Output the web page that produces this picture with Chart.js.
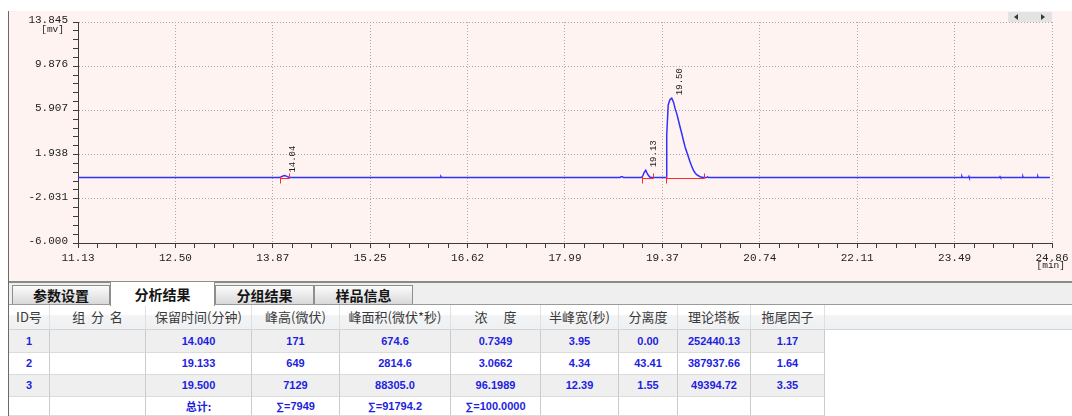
<!DOCTYPE html>
<html lang="zh-CN">
<head>
<meta charset="utf-8">
<title>色谱图 - 分析结果</title>
<script src="https://cdn.jsdelivr.net/npm/chart.js@4.4.1/dist/chart.umd.min.js"></script>
<style>
  html, body { margin: 0; padding: 0; background: #fff; width: 1072px; height: 416px; overflow: hidden; }
  body { position: relative; font-family: "Noto Sans CJK SC", "Noto Sans", sans-serif; }
  #leftRule { position: absolute; left: 8px; top: 11px; width: 1px; height: 405px; background: #6a6a6a; }
  #plotPanel { position: absolute; left: 9px; top: 11px; width: 1063px; height: 270px; background: #fff3f1; }
  #chartBox { position: absolute; left: 0; top: 0; width: 1063px; height: 264px; }
  #scroller { position: absolute; left: 999px; top: 1px; width: 44px; height: 10px; background: #e3e3e3; }
  #scroller .l, #scroller .r { position: absolute; top: 2px; width: 0; height: 0; border-top: 3px solid transparent; border-bottom: 3px solid transparent; }
  #scroller .l { left: 6px; border-right: 4px solid #3a3a3a; }
  #scroller .r { left: 33px; border-left: 4px solid #3a3a3a; }
  #tabBar { position: absolute; left: 9px; top: 281px; width: 1063px; height: 21px; background: #efefef; border-top: 2px solid #8a8a8a; border-bottom: 1px solid #9a9a9a; }
  .tab { position: absolute; box-sizing: border-box; border: 1px solid #8e8e8e; border-bottom: none; font-weight: bold; font-size: 14px; color: #151515; text-align: center; }
  .tab.off { top: 285px; height: 19px; line-height: 19px; background: linear-gradient(#fbfbfb, #d9d9d9); }
  .tab.on { top: 281px; height: 25px; line-height: 24px; background: #fff; z-index: 2; }
  .cell { position: absolute; box-sizing: border-box; text-align: center; white-space: pre; overflow: hidden; }
  .hd { top: 305px; height: 25px; line-height: 24px; font-size: 13px; color: #3a3a3a;
        background: linear-gradient(#ffffff 0%, #ffffff 40%, #f3f4f6 42%, #eef0f2 100%);
        border-right: 1px solid #e0e0e0; border-bottom: 1px solid #d4d4d4; }
  .bd { font-family: "Liberation Sans", Arial, sans-serif; font-weight: bold; font-size: 11px; color: #1e1ee0;
        border-right: 1px solid #cbcbcb; border-bottom: 1px solid #dcdcdc; }
  .bd.cjk { font-family: "Noto Sans CJK SC", sans-serif; }
</style>
</head>
<body>
<div id="plotPanel">
  <div id="chartBox"><canvas id="chrom"></canvas></div>
  <div id="scroller"><span class="l"></span><span class="r"></span></div>
</div>
<div id="leftRule"></div>
<div id="tabBar"></div>
<div class="tab off" style="left:12px;width:98px;">参数设置</div>
<div class="tab on" style="left:110px;width:105px;">分析结果</div>
<div class="tab off" style="left:215px;width:99px;">分组结果</div>
<div class="tab off" style="left:314px;width:99px;">样品信息</div>
<div id="grid"></div>

<script>
// ---- chromatogram trace (time in min, signal in mV) ----
const timeMin = [
  11.13, 13.97, 13.995, 14.02, 14.04, 14.06, 14.08, 14.10, 14.12,
  16.24, 16.247, 16.255,
  18.77, 18.785, 18.805, 18.82,
  19.07, 19.09, 19.11, 19.133, 19.15, 19.17, 19.19, 19.21,
  19.427, 19.429, 19.45, 19.475, 19.50, 19.525, 19.546, 19.569, 19.593, 19.616, 19.640, 19.663, 19.687,
  19.710, 19.734, 19.757, 19.780, 19.804, 19.827, 19.851, 19.898, 19.945, 19.99, 20.005, 20.02,
  23.585, 23.59, 23.595, 23.685, 23.69, 23.695, 24.12, 24.127, 24.135, 24.445, 24.45, 24.455,
  24.655, 24.66, 24.665, 24.83
];
const signalMv = [
  -0.12, -0.12, -0.06, 0.02, 0.051, 0.03, -0.04, -0.10, -0.12,
  -0.12, -0.04, -0.12,
  -0.12, -0.04, -0.04, -0.12,
  -0.12, 0.00, 0.33, 0.529, 0.30, 0.08, -0.08, -0.12,
  -0.12, 3.70, 6.40, 6.88, 7.009, 6.65, 6.09, 5.64, 5.04, 4.44, 3.85, 3.25, 2.65,
  2.20, 1.75, 1.30, 0.91, 0.55, 0.31, 0.13, -0.05, -0.11, -0.12, -0.06, -0.12,
  -0.12, -0.04, -0.12, -0.12, -0.04, -0.12, -0.12, -0.04, -0.12, -0.12, -0.04, -0.12,
  -0.12, -0.04, -0.12, -0.12
];
const baselineMv = -0.12;

// ---- integration windows (min) ----
const peakStart = [13.977, 19.085, 19.418];
const peakEnd   = [14.104, 19.232, 19.955];

// ---- axis ticks ----
const xMin = 11.13, xMax = 24.86;
const yMin = -6.0, yMax = 13.845;
const xTickLabels = ['11.13', '12.50', '13.87', '15.25', '16.62', '17.99', '19.37', '20.74', '22.11', '23.49', '24.86'];
const yTickLabels = ['-6.000', '-2.031', '1.938', '5.907', '9.876', '13.845'];
const minorPerMajor = 5;

// ---- peak results table ----
const peakIds = [1, 2, 3];
const componentNames = ['', '', ''];
const retentionTimes = [14.040, 19.133, 19.500];
const peakHeights = [171, 649, 7129];
const peakAreas = [674.6, 2814.6, 88305.0];
const concentrations = [0.7349, 3.0662, 96.1989];
const halfWidths = [3.95, 4.34, 12.39];
const resolutions = [0.00, 43.41, 1.55];
const plates = [252440.13, 387937.66, 49394.72];
const tailing = [1.17, 1.64, 3.35];
const headers = ['ID号', '组  分  名', '保留时间(分钟)', '峰高(微伏)', '峰面积(微伏*秒)', '浓　 度', '半峰宽(秒)', '分离度', '理论塔板', '拖尾因子'];

const monoFont = "'Liberation Mono', 'DejaVu Sans Mono', monospace";

function evenTicks(min, max, majors) {
  const n = (majors - 1) * minorPerMajor;
  const out = [];
  for (let i = 0; i <= n; i++) out.push({ value: min + (max - min) * i / n });
  return out;
}

const peakMarks = {
  id: 'peakMarks',
  afterDatasetsDraw(chart) {
    const { ctx, scales: { x, y } } = chart;
    const yy = Math.round(y.getPixelForValue(baselineMv)) + 0.5;
    ctx.save();
    ctx.strokeStyle = '#ff2a2a';
    ctx.lineWidth = 1;
    peakStart.forEach((ts, i) => {
      const xs = Math.round(x.getPixelForValue(ts)) + 0.5;
      const xe = Math.round(x.getPixelForValue(peakEnd[i])) + 0.5;
      ctx.beginPath();
      ctx.moveTo(xs, yy + 5); ctx.lineTo(xs, yy - 2);
      ctx.moveTo(xs, yy); ctx.lineTo(xe, yy);
      ctx.moveTo(xe, yy); ctx.lineTo(xe, yy - 5);
      ctx.stroke();
    });
    // retention-time labels, rotated above each apex
    ctx.fillStyle = '#222';
    ctx.font = '9px ' + monoFont;
    retentionTimes.forEach((rt, i) => {
      const px = x.getPixelForValue(rt) + 8;
      const py = y.getPixelForValue(baselineMv + peakHeights[i] / 1000) - 3;
      ctx.save();
      ctx.translate(px, py);
      ctx.rotate(-Math.PI / 2);
      ctx.textAlign = 'left';
      ctx.textBaseline = 'middle';
      ctx.fillText(rt.toFixed(2), 0, 0);
      ctx.restore();
    });
    // unit captions
    ctx.font = '9.5px ' + monoFont;
    ctx.fillStyle = '#222';
    ctx.textAlign = 'right';
    ctx.textBaseline = 'middle';
    ctx.fillText('[mv]', y.left + 55, y.top + 7);
    ctx.fillText('[min]', x.right + 13, x.top + 22);
    ctx.restore();
  }
};

const gridColor = (ctx) => (ctx.index % minorPerMajor === 0 ? '#ababab' : 'rgba(0,0,0,0)');

new Chart(document.getElementById('chrom'), {
  type: 'line',
  data: {
    datasets: [{
      data: timeMin.map((t, i) => ({ x: t, y: signalMv[i] })),
      borderColor: '#3030ff',
      borderWidth: 1.5,
      pointRadius: 0,
      tension: 0,
      fill: false
    }]
  },
  options: {
    responsive: true,
    maintainAspectRatio: false,
    devicePixelRatio: 1,
    animation: false,
    events: [],
    layout: { padding: { left: 0, top: 11, right: 20, bottom: 0 } },
    plugins: { legend: { display: false }, tooltip: { enabled: false } },
    scales: {
      x: {
        type: 'linear', min: xMin, max: xMax,
        afterBuildTicks: (s) => { s.ticks = evenTicks(xMin, xMax, xTickLabels.length); },
        afterFit: (s) => { s.height = 32; s.paddingLeft = 0; s.paddingRight = 0; },
        ticks: {
          autoSkip: false, maxRotation: 0, padding: 3, color: '#222',
          font: { family: monoFont, size: 11 },
          callback: (v, i) => (i % minorPerMajor === 0 ? xTickLabels[i / minorPerMajor] : '')
        },
        grid: { color: gridColor, tickColor: '#3c3c3c', tickLength: 5, tickBorderDash: [], drawTicks: true },
        border: { display: true, color: '#3c3c3c', width: 1, dash: [1, 2] }
      },
      y: {
        type: 'linear', min: yMin, max: yMax,
        afterBuildTicks: (s) => { s.ticks = evenTicks(yMin, yMax, yTickLabels.length); },
        afterFit: (s) => { s.width = 69; s.paddingTop = 0; s.paddingBottom = 0; },
        ticks: {
          autoSkip: false, padding: 5, color: '#222', labelOffset: -2,
          font: { family: monoFont, size: 11 },
          callback: (v, i) => (i % minorPerMajor === 0 ? yTickLabels[i / minorPerMajor] : '')
        },
        grid: { color: gridColor, tickColor: '#3c3c3c', tickLength: 5, tickBorderDash: [], drawTicks: true },
        border: { display: true, color: '#3c3c3c', width: 1, dash: [1, 2] }
      }
    }
  },
  plugins: [peakMarks]
});

// ---- results grid ----
const colEdges = [9, 50, 146, 252, 340, 451, 541, 619, 678, 751, 825];
const rowTops = [330, 353, 375, 397];
const rowHeights = [23, 22, 22, 19];
const rowFills = ['#efefef', '#ffffff', '#efefef', '#ffffff'];
const grid = document.getElementById('grid');

function addCell(cls, x0, x1, top, h, text, extra) {
  const d = document.createElement('div');
  d.className = 'cell ' + cls;
  d.style.left = x0 + 'px';
  d.style.width = (x1 - x0) + 'px';
  if (top !== null) { d.style.top = top + 'px'; d.style.height = h + 'px'; d.style.lineHeight = (h - 1) + 'px'; }
  if (extra) Object.assign(d.style, extra);
  d.textContent = text;
  grid.appendChild(d);
}

headers.forEach((h, c) => addCell('hd', colEdges[c], colEdges[c + 1], null, 0, h));
addCell('hd', colEdges[colEdges.length - 1], 1072, null, 0, '', { borderRight: 'none' });

const fmtRows = peakIds.map((id, i) => [
  String(id), componentNames[i], retentionTimes[i].toFixed(3), String(peakHeights[i]),
  peakAreas[i].toFixed(1), concentrations[i].toFixed(4), halfWidths[i].toFixed(2),
  resolutions[i].toFixed(2), plates[i].toFixed(2), tailing[i].toFixed(2)
]);
const sum = (a) => a.reduce((s, v) => s + v, 0);
fmtRows.push(['', '', '总计:', '∑=' + sum(peakHeights), '∑=' + sum(peakAreas).toFixed(1),
  '∑=' + sum(concentrations).toFixed(4), '', '', '', '']);

fmtRows.forEach((row, r) => {
  row.forEach((txt, c) => {
    addCell('bd' + (txt === '总计:' ? ' cjk' : ''), colEdges[c], colEdges[c + 1], rowTops[r], rowHeights[r], txt,
      { background: rowFills[r] });
  });
});
</script>
</body>
</html>
